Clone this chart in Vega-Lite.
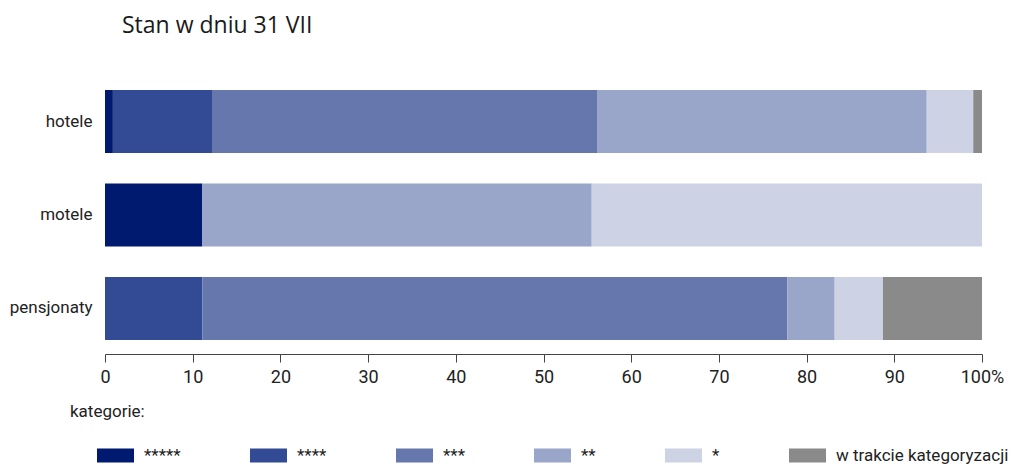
{
  "$schema": "https://vega.github.io/schema/vega-lite/v6.json",
  "autosize": {"type": "none"},
  "width": 877,
  "height": 278,
  "padding": {"left": 105, "top": 76, "right": 29, "bottom": 112},
  "title": {
    "text": "Stan w dniu 31 VII",
    "anchor": "start",
    "frame": "group",
    "dx": 17,
    "offset": 38,
    "font": "Open Sans",
    "fontSize": 23,
    "fontWeight": "normal",
    "color": "#1a1a1a"
  },
  "config": {
    "view": {"stroke": null},
    "font": "Roboto"
  },
  "data": {
    "values": [
      {"typ": "hotele", "kat": "*****", "udzial": 0.9, "kolej": 1},
      {"typ": "hotele", "kat": "****", "udzial": 11.3, "kolej": 2},
      {"typ": "hotele", "kat": "***", "udzial": 43.9, "kolej": 3},
      {"typ": "hotele", "kat": "**", "udzial": 37.6, "kolej": 4},
      {"typ": "hotele", "kat": "*", "udzial": 5.3, "kolej": 5},
      {"typ": "hotele", "kat": "w trakcie kategoryzacji", "udzial": 1.0, "kolej": 6},
      {"typ": "motele", "kat": "*****", "udzial": 11.1, "kolej": 1},
      {"typ": "motele", "kat": "**", "udzial": 44.4, "kolej": 4},
      {"typ": "motele", "kat": "*", "udzial": 44.5, "kolej": 5},
      {"typ": "pensjonaty", "kat": "****", "udzial": 11.1, "kolej": 2},
      {"typ": "pensjonaty", "kat": "***", "udzial": 66.7, "kolej": 3},
      {"typ": "pensjonaty", "kat": "**", "udzial": 5.4, "kolej": 4},
      {"typ": "pensjonaty", "kat": "*", "udzial": 5.5, "kolej": 5},
      {"typ": "pensjonaty", "kat": "w trakcie kategoryzacji", "udzial": 11.3, "kolej": 6}
    ]
  },
  "mark": {"type": "bar"},
  "encoding": {
    "y": {
      "field": "typ",
      "type": "nominal",
      "sort": ["hotele", "motele", "pensjonaty"],
      "scale": {"paddingInner": 0.326, "paddingOuter": 0.15},
      "axis": {
        "title": null,
        "domain": false,
        "ticks": false,
        "labelPadding": 13,
        "labelFontSize": 17,
        "labelColor": "#222"
      }
    },
    "x": {
      "field": "udzial",
      "type": "quantitative",
      "stack": "zero",
      "scale": {"domain": [0, 100], "nice": false},
      "axis": {
        "title": null,
        "grid": false,
        "values": [0, 10, 20, 30, 40, 50, 60, 70, 80, 90, 100],
        "labelExpr": "datum.value == 100 ? '100%' : datum.label",
        "domainColor": "#444",
        "tickColor": "#444",
        "tickSize": 8,
        "labelFontSize": 18,
        "labelPadding": 6,
        "labelColor": "#222",
        "labelFlush": false
      }
    },
    "order": {"field": "kolej", "type": "quantitative"},
    "color": {
      "field": "kat",
      "type": "nominal",
      "scale": {
        "domain": ["*****", "****", "***", "**", "*", "w trakcie kategoryzacji"],
        "range": ["#001a70", "#334a94", "#6677ad", "#99a5c9", "#cdd2e5", "#8a8a8a"]
      },
      "legend": {
        "title": "kategorie:",
        "orient": "none",
        "legendX": -35,
        "legendY": 328,
        "direction": "horizontal",
        "columns": 6,
        "gridAlign": "none",
        "columnPadding": 42,
        "titleFontSize": 17,
        "titleFontWeight": "normal",
        "titleColor": "#222",
        "titlePadding": 16,
        "symbolType": "M-1,-0.38H1V0.38H-1Z",
        "symbolSize": 1369,
        "symbolStrokeWidth": 0,
        "symbolOpacity": 1,
        "symbolOffset": 27,
        "labelOffset": 10,
        "labelLimit": 300,
        "labelFontSize": 17,
        "labelColor": "#222"
      }
    }
  }
}
